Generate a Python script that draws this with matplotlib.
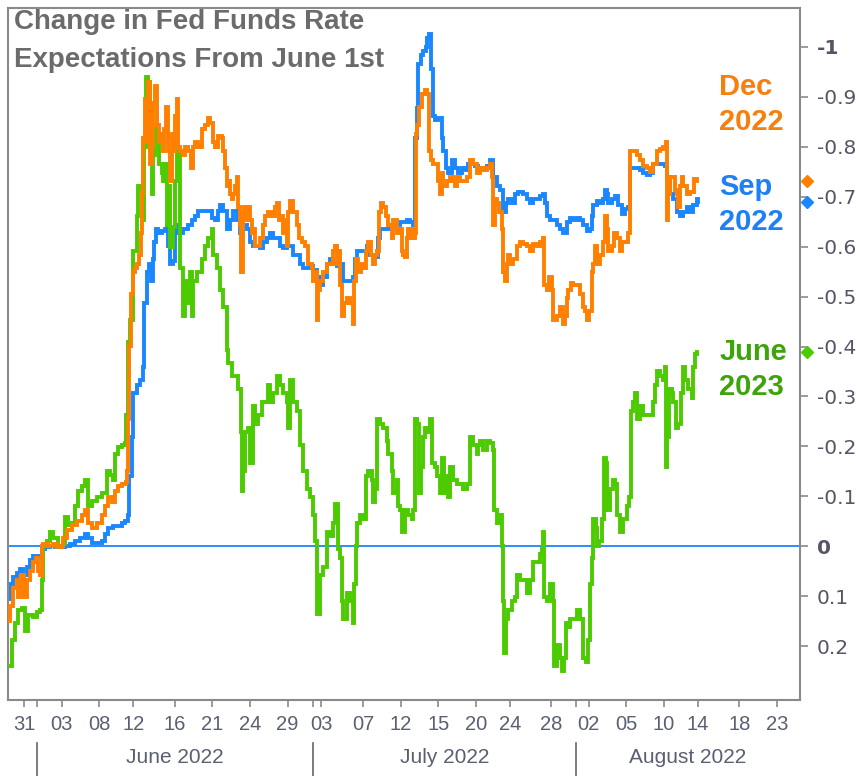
import datetime as dt

import numpy as np
import matplotlib
matplotlib.use("Agg")
import matplotlib.pyplot as plt
import matplotlib.transforms as mtransforms


TITLE = "Change in Fed Funds Rate\nExpectations From June 1st"

# x = trading days after 31 May 2022 (weekends removed), y = change in
# expected rate (axis is drawn inverted, so negative values sit at the top)
DEC_2022 = [
    (-1.33, 0.149), (-1.12, 0.119), (-0.85, 0.084), (-0.58, 0.067),
    (-0.45, 0.102), (-0.27, 0.058), (0.00, 0.102), (0.21, 0.067),
    (0.48, 0.050), (0.74, 0.032), (0.96, 0.023), (1.14, 0.050),
    (1.28, 0.058), (1.41, 0.000), (1.54, -0.004), (1.94, 0.000),
    (2.34, -0.004), (2.60, 0.002), (3.00, 0.000), (3.13, -0.016),
    (3.40, -0.033), (3.80, -0.042), (4.20, -0.050), (4.60, -0.063),
    (4.86, -0.072), (5.13, -0.046), (5.39, -0.037), (5.79, -0.046),
    (6.19, -0.063), (6.45, -0.081), (6.72, -0.098), (6.99, -0.089),
    (7.25, -0.111), (7.52, -0.120), (7.78, -0.124), (8.13, -0.128),
    (8.18, -0.150), (8.26, -0.254), (8.39, -0.401), (8.53, -0.506),
    (8.66, -0.549), (8.85, -0.558), (8.98, -0.566), (9.19, -0.584),
    (9.30, -0.627), (9.43, -0.705), (9.51, -0.818), (9.64, -0.896),
    (9.77, -0.809), (9.91, -0.930), (10.04, -0.766), (10.17, -0.800),
    (10.31, -0.887), (10.44, -0.922), (10.57, -0.844), (10.76, -0.809),
    (10.92, -0.826), (11.05, -0.792), (11.18, -0.835), (11.32, -0.879),
    (11.50, -0.792), (11.63, -0.731), (11.77, -0.826), (11.90, -0.792),
    (12.03, -0.861), (12.16, -0.896), (12.30, -0.800), (12.43, -0.792),
    (12.64, -0.783), (12.83, -0.800), (13.09, -0.792), (13.28, -0.757),
    (13.44, -0.800), (13.62, -0.809), (13.89, -0.800), (14.16, -0.835),
    (14.42, -0.844), (14.69, -0.857), (14.82, -0.848), (15.03, -0.809),
    (15.22, -0.800), (15.48, -0.822), (15.75, -0.818), (15.88, -0.792),
    (16.02, -0.757), (16.15, -0.722), (16.28, -0.731), (16.41, -0.705),
    (16.55, -0.696), (16.68, -0.705), (16.81, -0.722), (16.95, -0.740),
    (17.08, -0.679), (17.21, -0.644), (17.29, -0.549), (17.42, -0.662),
    (17.53, -0.679), (17.74, -0.653), (17.88, -0.679), (18.01, -0.653),
    (18.14, -0.627), (18.27, -0.636), (18.41, -0.601), (18.59, -0.601),
    (18.80, -0.618), (19.02, -0.644), (19.20, -0.662), (19.47, -0.670),
    (19.73, -0.662), (20.00, -0.679), (20.19, -0.688), (20.35, -0.653),
    (20.53, -0.662), (20.66, -0.627), (20.80, -0.653), (20.93, -0.601),
    (21.06, -0.670), (21.20, -0.692), (21.41, -0.670), (21.59, -0.670),
    (21.73, -0.644), (21.94, -0.618), (22.12, -0.610), (22.39, -0.601),
    (22.66, -0.566), (22.92, -0.558), (23.05, -0.532), (23.19, -0.549),
    (23.32, -0.454), (23.45, -0.514), (23.59, -0.532), (23.85, -0.549),
    (24.12, -0.566), (24.38, -0.566), (24.65, -0.592), (24.78, -0.601),
    (24.91, -0.566), (25.05, -0.592), (25.18, -0.523), (25.31, -0.462),
    (25.50, -0.488), (25.71, -0.497), (25.98, -0.488), (26.19, -0.445),
    (26.29, -0.532), (26.45, -0.575), (26.64, -0.549), (26.83, -0.566),
    (27.04, -0.558), (27.25, -0.592), (27.44, -0.610), (27.62, -0.584),
    (27.78, -0.566), (27.97, -0.584), (28.15, -0.592), (28.26, -0.670),
    (28.42, -0.688), (28.63, -0.679), (28.84, -0.662), (29.03, -0.644),
    (29.16, -0.644), (29.30, -0.618), (29.43, -0.653), (29.64, -0.653),
    (29.75, -0.627), (29.96, -0.636), (30.09, -0.592), (30.23, -0.584),
    (30.36, -0.579), (30.49, -0.618), (30.62, -0.636), (30.76, -0.618),
    (30.89, -0.636), (31.02, -0.618), (31.16, -0.627), (31.24, -0.826),
    (31.34, -0.844), (31.50, -0.879), (31.69, -0.905), (31.95, -0.913),
    (32.14, -0.905), (32.30, -0.792), (32.40, -0.774), (32.62, -0.766),
    (32.88, -0.766), (33.01, -0.731), (33.15, -0.705), (33.28, -0.748),
    (33.41, -0.722), (33.68, -0.731), (33.94, -0.740), (34.21, -0.731),
    (34.34, -0.722), (34.48, -0.740), (34.74, -0.731), (35.01, -0.731),
    (35.27, -0.740), (35.54, -0.774), (35.80, -0.766), (36.07, -0.748),
    (36.33, -0.757), (36.60, -0.753), (36.87, -0.757), (37.13, -0.766),
    (37.26, -0.740), (37.40, -0.644), (37.53, -0.696), (37.66, -0.688),
    (37.88, -0.670), (38.06, -0.636), (38.19, -0.549), (38.33, -0.532),
    (38.46, -0.566), (38.59, -0.584), (38.72, -0.566), (38.99, -0.575),
    (39.26, -0.601), (39.52, -0.610), (39.79, -0.605), (40.05, -0.601),
    (40.32, -0.592), (40.58, -0.605), (40.85, -0.601), (41.12, -0.610),
    (41.38, -0.618), (41.46, -0.523), (41.65, -0.514), (41.86, -0.540),
    (42.04, -0.514), (42.18, -0.454), (42.44, -0.462), (42.71, -0.479),
    (42.92, -0.445), (43.11, -0.462), (43.24, -0.497), (43.37, -0.514),
    (43.56, -0.527), (43.77, -0.523), (44.04, -0.523), (44.30, -0.506),
    (44.52, -0.479), (44.70, -0.471), (44.83, -0.454), (45.05, -0.471),
    (45.23, -0.549), (45.36, -0.566), (45.50, -0.601), (45.68, -0.566),
    (45.90, -0.584), (46.16, -0.610), (46.29, -0.662), (46.43, -0.636),
    (46.56, -0.592), (46.83, -0.601), (47.01, -0.627), (47.22, -0.618),
    (47.49, -0.592), (47.62, -0.610), (47.89, -0.610), (48.15, -0.627),
    (48.29, -0.792), (48.55, -0.792), (48.82, -0.783), (49.08, -0.774),
    (49.35, -0.761), (49.61, -0.757), (49.88, -0.749), (50.15, -0.766),
    (50.41, -0.792), (50.68, -0.796), (50.94, -0.800), (51.16, -0.809),
    (51.21, -0.653), (51.34, -0.705), (51.47, -0.740), (51.74, -0.740),
    (51.87, -0.714), (52.00, -0.705), (52.14, -0.679), (52.27, -0.722),
    (52.40, -0.740), (52.54, -0.722), (52.80, -0.705), (53.07, -0.709),
    (53.28, -0.709), (53.39, -0.735), (53.65, -0.731),
]

SEP_2022 = [
    (-1.33, 0.106), (-1.12, 0.075), (-0.85, 0.062), (-0.58, 0.054),
    (-0.32, 0.045), (-0.05, 0.058), (0.21, 0.041), (0.48, 0.028),
    (0.74, 0.019), (1.01, 0.019), (1.28, 0.024), (1.41, 0.006),
    (1.67, 0.002), (2.07, 0.000), (2.47, 0.002), (2.87, 0.002),
    (3.27, 0.000), (3.67, -0.004), (4.06, -0.011), (4.46, -0.016),
    (4.86, -0.024), (5.13, -0.016), (5.39, -0.007), (5.79, -0.007),
    (6.19, -0.011), (6.45, -0.024), (6.72, -0.037), (7.12, -0.041),
    (7.52, -0.041), (7.78, -0.046), (8.05, -0.050), (8.31, -0.063),
    (8.39, -0.141), (8.58, -0.219), (8.71, -0.306), (8.98, -0.323),
    (9.24, -0.332), (9.46, -0.358), (9.56, -0.488), (9.77, -0.549),
    (9.99, -0.566), (10.09, -0.532), (10.25, -0.575), (10.36, -0.610),
    (10.52, -0.636), (10.70, -0.627), (10.97, -0.631), (11.24, -0.636),
    (11.37, -0.644), (11.50, -0.601), (11.63, -0.566), (11.85, -0.571),
    (12.03, -0.644), (12.30, -0.627), (12.70, -0.636), (13.09, -0.644),
    (13.36, -0.653), (13.62, -0.662), (13.89, -0.671), (14.16, -0.671),
    (14.42, -0.671), (14.69, -0.671), (14.95, -0.658), (15.22, -0.653),
    (15.48, -0.671), (15.62, -0.683), (15.88, -0.671), (16.15, -0.636),
    (16.41, -0.653), (16.68, -0.671), (16.95, -0.653), (17.21, -0.627),
    (17.48, -0.644), (17.74, -0.636), (18.01, -0.610), (18.27, -0.601),
    (18.54, -0.601), (18.80, -0.597), (19.07, -0.610), (19.34, -0.618),
    (19.60, -0.627), (19.87, -0.618), (20.13, -0.618), (20.40, -0.601),
    (20.66, -0.597), (20.93, -0.601), (21.20, -0.601), (21.46, -0.584),
    (21.73, -0.584), (21.99, -0.566), (22.26, -0.558), (22.52, -0.558),
    (22.79, -0.562), (23.05, -0.553), (23.32, -0.540), (23.59, -0.523),
    (23.85, -0.540), (24.12, -0.566), (24.38, -0.575), (24.65, -0.566),
    (24.91, -0.562), (25.18, -0.566), (25.44, -0.532), (25.71, -0.532),
    (25.98, -0.532), (26.24, -0.540), (26.37, -0.575), (26.51, -0.592),
    (26.77, -0.592), (27.04, -0.592), (27.30, -0.601), (27.57, -0.584),
    (27.84, -0.579), (28.10, -0.579), (28.23, -0.618), (28.37, -0.636),
    (28.63, -0.636), (28.90, -0.636), (29.16, -0.644), (29.43, -0.640),
    (29.69, -0.644), (29.96, -0.649), (30.23, -0.649), (30.49, -0.653),
    (30.76, -0.649), (31.02, -0.644), (31.16, -0.818), (31.29, -0.878),
    (31.42, -0.965), (31.61, -0.983), (31.82, -0.991), (32.03, -1.000),
    (32.14, -1.017), (32.30, -1.026), (32.40, -0.956), (32.56, -0.861),
    (32.75, -0.853), (33.01, -0.857), (33.28, -0.818), (33.41, -0.792),
    (33.63, -0.757), (33.81, -0.748), (34.08, -0.774), (34.34, -0.757),
    (34.61, -0.748), (34.87, -0.757), (35.14, -0.753), (35.41, -0.766),
    (35.67, -0.766), (35.94, -0.761), (36.20, -0.757), (36.47, -0.757),
    (36.87, -0.761), (37.13, -0.774), (37.34, -0.740), (37.53, -0.740),
    (37.72, -0.722), (37.93, -0.714), (38.19, -0.670), (38.41, -0.688),
    (38.59, -0.696), (38.86, -0.688), (39.12, -0.705), (39.39, -0.709),
    (39.52, -0.709), (39.79, -0.705), (40.05, -0.696), (40.32, -0.688),
    (40.58, -0.696), (40.85, -0.696), (41.12, -0.701), (41.38, -0.705),
    (41.51, -0.688), (41.65, -0.662), (41.91, -0.653), (42.18, -0.653),
    (42.44, -0.644), (42.71, -0.636), (42.97, -0.627), (43.24, -0.649),
    (43.51, -0.657), (43.77, -0.653), (44.04, -0.657), (44.30, -0.653),
    (44.57, -0.644), (44.83, -0.631), (45.10, -0.636), (45.23, -0.662),
    (45.36, -0.683), (45.63, -0.692), (45.90, -0.688), (46.16, -0.696),
    (46.29, -0.714), (46.43, -0.705), (46.56, -0.688), (46.83, -0.696),
    (47.09, -0.701), (47.36, -0.683), (47.62, -0.666), (47.89, -0.675),
    (48.15, -0.679), (48.29, -0.757), (48.55, -0.757), (48.82, -0.757),
    (49.08, -0.753), (49.35, -0.748), (49.61, -0.744), (49.88, -0.748),
    (50.15, -0.766), (50.41, -0.766), (50.68, -0.766), (50.94, -0.766),
    (51.08, -0.761), (51.21, -0.740), (51.47, -0.705), (51.74, -0.696),
    (52.00, -0.670), (52.27, -0.662), (52.54, -0.670), (52.80, -0.679),
    (53.07, -0.670), (53.33, -0.683), (53.60, -0.696), (53.73, -0.690),
]

JUN_2023 = [
    (-1.33, 0.240), (-0.98, 0.188), (-0.72, 0.154), (-0.45, 0.128),
    (-0.19, 0.124), (0.08, 0.170), (0.35, 0.137), (0.74, 0.141),
    (1.01, 0.132), (1.28, 0.128), (1.41, 0.067), (1.49, 0.000),
    (1.81, -0.011), (2.07, -0.029), (2.34, -0.016), (2.74, 0.000),
    (3.13, -0.004), (3.27, -0.059), (3.53, -0.042), (3.80, -0.046),
    (4.06, -0.081), (4.33, -0.111), (4.60, -0.120), (4.86, -0.133),
    (5.13, -0.081), (5.39, -0.090), (5.79, -0.098), (6.19, -0.107),
    (6.59, -0.150), (6.85, -0.142), (7.12, -0.133), (7.25, -0.185),
    (7.52, -0.198), (7.78, -0.202), (8.05, -0.206), (8.13, -0.263),
    (8.26, -0.410), (8.45, -0.454), (8.71, -0.592), (8.98, -0.662),
    (9.11, -0.722), (9.38, -0.714), (9.46, -0.653), (9.56, -0.800),
    (9.72, -0.939), (9.91, -0.930), (10.04, -0.792), (10.17, -0.705),
    (10.31, -0.783), (10.44, -0.844), (10.57, -0.827), (10.78, -0.766),
    (10.97, -0.748), (11.10, -0.731), (11.24, -0.766), (11.37, -0.644),
    (11.50, -0.722), (11.63, -0.600), (11.90, -0.640), (12.03, -0.731),
    (12.16, -0.792), (12.43, -0.558), (12.64, -0.462), (12.83, -0.532),
    (13.09, -0.488), (13.23, -0.549), (13.36, -0.462), (13.49, -0.532),
    (13.76, -0.549), (14.16, -0.575), (14.42, -0.601), (14.69, -0.618),
    (14.95, -0.636), (15.09, -0.584), (15.35, -0.558), (15.62, -0.514),
    (15.88, -0.479), (16.15, -0.393), (16.28, -0.367), (16.55, -0.341),
    (16.81, -0.341), (17.08, -0.315), (17.26, -0.228), (17.34, -0.111),
    (17.48, -0.150), (17.61, -0.228), (17.88, -0.237), (18.01, -0.167),
    (18.22, -0.280), (18.41, -0.245), (18.67, -0.263), (18.94, -0.289),
    (19.20, -0.289), (19.47, -0.323), (19.60, -0.289), (19.87, -0.306),
    (20.13, -0.341), (20.40, -0.323), (20.66, -0.306), (20.93, -0.289),
    (21.06, -0.237), (21.20, -0.332), (21.46, -0.289), (21.73, -0.271),
    (21.99, -0.202), (22.26, -0.150), (22.52, -0.115), (22.79, -0.098),
    (23.00, -0.063), (23.19, -0.011), (23.32, 0.136), (23.59, 0.058),
    (23.85, 0.041), (24.12, -0.029), (24.38, -0.020), (24.65, -0.046),
    (24.78, -0.085), (25.05, 0.006), (25.18, 0.023), (25.31, 0.110),
    (25.44, 0.145), (25.71, 0.093), (25.98, 0.110), (26.19, 0.153),
    (26.29, 0.075), (26.45, 0.000), (26.56, -0.046), (26.77, -0.063),
    (27.04, -0.054), (27.25, -0.141), (27.44, -0.150), (27.70, -0.133),
    (27.84, -0.089), (27.97, -0.115), (28.15, -0.254), (28.37, -0.245),
    (28.63, -0.237), (28.90, -0.211), (29.03, -0.185), (29.30, -0.150),
    (29.43, -0.107), (29.69, -0.133), (29.83, -0.081), (29.96, -0.072),
    (30.09, -0.029), (30.36, -0.072), (30.62, -0.063), (30.89, -0.054),
    (31.02, -0.072), (31.16, -0.254), (31.34, -0.245), (31.47, -0.107),
    (31.61, -0.159), (31.77, -0.219), (31.95, -0.237), (32.14, -0.228),
    (32.35, -0.254), (32.48, -0.167), (32.75, -0.159), (32.94, -0.141),
    (33.15, -0.107), (33.28, -0.176), (33.47, -0.107), (33.68, -0.141),
    (33.81, -0.098), (33.94, -0.159), (34.21, -0.133), (34.48, -0.124),
    (34.74, -0.124), (35.01, -0.115), (35.27, -0.124), (35.54, -0.219),
    (35.80, -0.202), (36.07, -0.185), (36.20, -0.202), (36.33, -0.211),
    (36.60, -0.193), (36.87, -0.211), (37.13, -0.206), (37.34, -0.193),
    (37.45, -0.072), (37.66, -0.046), (37.88, -0.063), (38.06, 0.000),
    (38.19, 0.110), (38.25, 0.214), (38.38, 0.145), (38.59, 0.128),
    (38.86, 0.110), (39.12, 0.102), (39.26, 0.058), (39.52, 0.067),
    (39.79, 0.067), (40.05, 0.093), (40.32, 0.067), (40.58, 0.032),
    (40.85, 0.032), (41.12, 0.015), (41.25, 0.006), (41.38, -0.029),
    (41.46, 0.102), (41.65, 0.110), (41.91, 0.076), (42.12, 0.110),
    (42.26, 0.240), (42.44, 0.197), (42.71, 0.223), (42.84, 0.249),
    (43.03, 0.223), (43.19, 0.154), (43.37, 0.162), (43.51, 0.145),
    (43.77, 0.145), (44.04, 0.128), (44.30, 0.145), (44.52, 0.223),
    (44.78, 0.232), (44.97, 0.188), (45.10, 0.076), (45.23, 0.023),
    (45.36, -0.054), (45.58, -0.037), (45.68, 0.000), (45.84, -0.011),
    (46.03, -0.054), (46.21, -0.176), (46.37, -0.167), (46.48, -0.072),
    (46.69, -0.115), (46.91, -0.133), (47.09, -0.124), (47.22, -0.063),
    (47.49, -0.029), (47.75, -0.054), (48.02, -0.081), (48.23, -0.098),
    (48.34, -0.271), (48.55, -0.289), (48.69, -0.306), (48.87, -0.254),
    (49.08, -0.280), (49.35, -0.263), (49.61, -0.263), (49.88, -0.263),
    (50.09, -0.289), (50.28, -0.323), (50.46, -0.350), (50.68, -0.341),
    (50.89, -0.332), (51.08, -0.358), (51.16, -0.159), (51.26, -0.219),
    (51.42, -0.315), (51.61, -0.306), (51.74, -0.289), (51.95, -0.237),
    (52.14, -0.245), (52.32, -0.306), (52.48, -0.358), (52.67, -0.332),
    (52.93, -0.315), (53.20, -0.297), (53.33, -0.358), (53.47, -0.384),
    (53.65, -0.390),
]

SERIES_NAMES = ["Dec\n2022", "Sep\n2022", "June\n2023"]

TICK_DATES = [
    "2022-05-31", "2022-06-01", "2022-06-03", "2022-06-08", "2022-06-12",
    "2022-06-16", "2022-06-21", "2022-06-24", "2022-06-29", "2022-07-01",
    "2022-07-03", "2022-07-07", "2022-07-12", "2022-07-15", "2022-07-20",
    "2022-07-24", "2022-07-28", "2022-08-01", "2022-08-02", "2022-08-05",
    "2022-08-10", "2022-08-14", "2022-08-18", "2022-08-23",
]
MONTH_STARTS = ["2022-06-01", "2022-07-01", "2022-08-01"]
MONTH_NAMES = ["June 2022", "July 2022", "August 2022"]

Y_TICKS = [-1, -0.9, -0.8, -0.7, -0.6, -0.5, -0.4, -0.3, -0.2, -0.1,
           0, 0.1, 0.2]

START = "2022-05-31"


def trading_day(date_str):
    """Trading-day index; Sunday sessions open just before Monday."""
    n = float(np.busday_count(START, date_str))
    if dt.date.fromisoformat(date_str).weekday() == 6:
        n -= 0.3
    return n


def main():
    orange = "#ff8000"
    blue = "#1a87ff"
    green = "#4ccb00"
    frame = "#8a8a8a"
    label_grey = "#555566"

    fig = plt.figure(figsize=(8.58, 7.76), dpi=100)
    ax = fig.add_axes([8 / 858, 1 - 700 / 776, 792 / 858, 692 / 776])

    ax.axhline(0, color="#2a8cff", linewidth=1.4, zorder=1)

    # stepped lines, like the intraday feed in the original
    lines = [
        (SEP_2022, blue, 2),
        (JUN_2023, green, 3),
        (DEC_2022, orange, 4),
    ]
    for data, colour, z in lines:
        t, v = np.array(data).T
        ax.plot(t, v, color=colour, linewidth=2.8, zorder=z,
                drawstyle="steps-post", solid_joinstyle="miter")

    ax.set_xlim(-1.28, 61.83)
    ax.set_ylim(0.308, -1.078)

    for side in ["left", "right", "top", "bottom"]:
        ax.spines[side].set_color(frame)
        ax.spines[side].set_linewidth(1.5)

    # right hand y axis
    ax.yaxis.tick_right()
    ax.set_yticks(Y_TICKS)
    ax.set_yticklabels(["{:g}".format(v) for v in Y_TICKS])
    ax.tick_params(axis="y", length=6, width=1.2, color=frame, pad=6,
                   labelsize=14.5, labelcolor=label_grey)
    for lab in ax.get_yticklabels():
        lab.set_family("DejaVu Sans")
        if lab.get_text() in ("0", "-1"):
            lab.set_fontweight("bold")

    # trading-day x axis
    tick_pos = [trading_day(d) for d in TICK_DATES]
    tick_lab = ["" if d in MONTH_STARTS else d[-2:] for d in TICK_DATES]
    ax.set_xticks(tick_pos)
    ax.set_xticklabels(tick_lab)
    ax.tick_params(axis="x", length=5, width=1.2, color=frame, pad=6,
                   labelsize=14.5, labelcolor="#5a6072")
    for lab in ax.get_xticklabels():
        lab.set_family(["Liberation Sans", "DejaVu Sans"])

    trans = mtransforms.blended_transform_factory(ax.transData, ax.transAxes)
    starts = [trading_day(d) for d in MONTH_STARTS]
    for s in starts:
        ax.plot([s, s], [-0.062, -0.115], transform=trans, color="#666666",
                linewidth=1.2, clip_on=False)
    edges = starts + [ax.get_xlim()[1]]
    for name, a, b in zip(MONTH_NAMES, edges[:-1], edges[1:]):
        ax.text((a + b) / 2, -0.0824, name, transform=trans, ha="center",
                va="center", fontsize=15, color="#5a6072",
                family=["Liberation Sans", "DejaVu Sans"])

    # title
    ax.text(0.0076, 0.999, TITLE, transform=ax.transAxes, ha="left",
            va="top", fontsize=20, fontweight="bold", color="#6b6b6b",
            linespacing=1.6, family=["Liberation Sans", "DejaVu Sans"])

    # series names and last-value markers
    name_y = [0.861, 0.716, 0.478]
    name_colours = ["#f77f0e", "#1e80f5", "#3da40c"]
    last_data = [DEC_2022, SEP_2022, JUN_2023]
    marker_colours = [orange, blue, green]
    mtrans = mtransforms.blended_transform_factory(ax.transAxes, ax.transData)
    for name, y, c, data, mc in zip(SERIES_NAMES, name_y, name_colours,
                                    last_data, marker_colours):
        ax.text(0.898, y, name, transform=ax.transAxes, ha="left",
                va="center", fontsize=21, fontweight="bold", color=c,
                linespacing=1.32, family=["Liberation Sans", "DejaVu Sans"])
        ax.plot([1.009], [data[-1][1]], transform=mtrans, marker="D",
                markersize=6.5, color=mc, clip_on=False, zorder=6)

    fig.savefig("out.png", dpi=100)


if __name__ == "__main__":
    main()
